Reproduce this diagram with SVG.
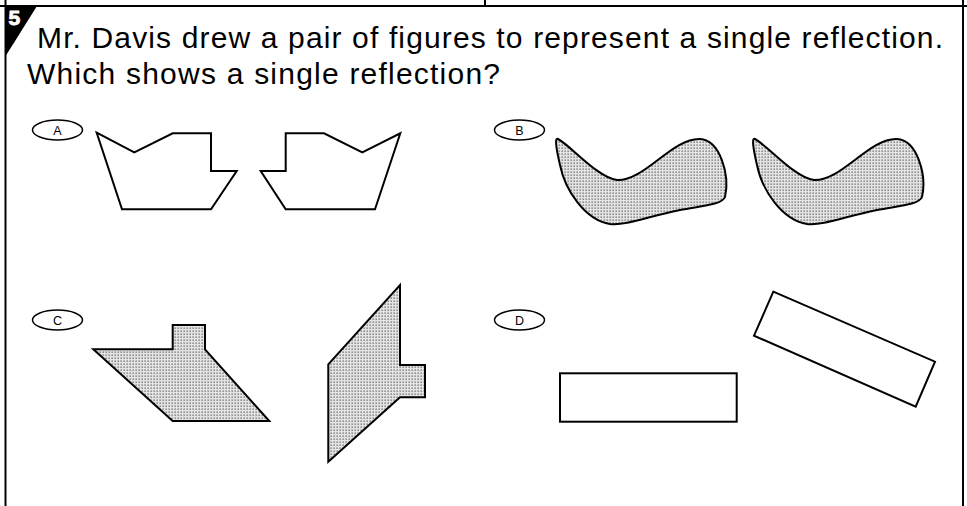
<svg xmlns="http://www.w3.org/2000/svg" width="967" height="506" viewBox="0 0 967 506">
<style>
.frame{stroke:#000;stroke-width:2;fill:none}
.shape{stroke:#000;stroke-width:2;fill:#fff;stroke-linejoin:miter}
.dot{stroke:#000;stroke-width:2;fill:url(#stipple);stroke-linejoin:miter}
.oval{stroke:#000;stroke-width:1.5;fill:#fff}
.lbl{font-family:"Liberation Sans",Arial,sans-serif;font-size:12.5px;fill:#000;text-anchor:middle}
.q{font-family:"Liberation Sans",Arial,sans-serif;font-size:30px;fill:#000}
</style>
<defs>
<pattern id="stipple" width="3" height="3" patternUnits="userSpaceOnUse">
<rect width="3" height="3" fill="#e4e4e4"/>
<rect x="0.5" y="0.5" width="1.3" height="1.3" fill="#666"/>
</pattern>
</defs>
<rect width="967" height="506" fill="#fff"/>
<g id="frame">
<line class="frame" x1="0" y1="6" x2="967" y2="6"/>
<line class="frame" x1="5.5" y1="0" x2="5.5" y2="506"/>
<line class="frame" x1="963" y1="0" x2="963" y2="506"/>
<line class="frame" x1="485" y1="0" x2="485" y2="6"/>
</g>
<g id="badge">
<polygon points="5,6 37,6 5,57" fill="#000"/>
<text x="8.5" y="25" font-family="'Liberation Sans',Arial,sans-serif" font-size="21" font-weight="bold" fill="#fff" stroke="#fff" stroke-width="0.9">5</text>
</g>
<g id="question">
<text class="q" x="37" y="48" textLength="906" lengthAdjust="spacing">Mr. Davis drew a pair of figures to represent a single reflection.</text>
<text class="q" x="27" y="84" textLength="473" lengthAdjust="spacing">Which shows a single reflection?</text>
</g>
<g id="optionA">
<ellipse class="oval" cx="57.5" cy="130" rx="25" ry="10"/>
<text class="lbl" x="57.5" y="134.5">A</text>
<polygon class="shape" points="96.7,132.7 134.3,152.3 172.7,133.3 211,133.3 211,171 236.7,171 211,209.3 122,209.3"/>
<polygon class="shape" points="285.7,133.3 324,133.3 362.3,152.3 400.3,133.3 375,209.3 285.7,209.3 260.7,171 285.7,171"/>
</g>
<g id="optionB">
<ellipse class="oval" cx="519.5" cy="130" rx="25" ry="10"/>
<text class="lbl" x="519.5" y="134.5">B</text>
<path class="dot" d="M558,139 C570,145 598,178 617,180 C645,181 672,138 700,139 C720,140 730,175 725,197 C722,205 700,206 680,210 C650,216 625,226 610,224 C585,220 565,190 560,165 C557,152 554,137 558,139 Z"/>
<path class="dot" transform="translate(197,0)" d="M558,139 C570,145 598,178 617,180 C645,181 672,138 700,139 C720,140 730,175 725,197 C722,205 700,206 680,210 C650,216 625,226 610,224 C585,220 565,190 560,165 C557,152 554,137 558,139 Z"/>
</g>
<g id="optionC">
<ellipse class="oval" cx="57.5" cy="320" rx="25" ry="10"/>
<text class="lbl" x="57.5" y="324.5">C</text>
<polygon class="dot" points="93.3,349.3 172.7,349.3 172.7,325 205,325 205,349.3 269.3,421 172.7,421"/>
<polygon class="dot" points="400,285 400,365 425,365 425,397.3 400,397.3 328.3,461.7 328.3,364.3"/>
</g>
<g id="optionD">
<ellipse class="oval" cx="519.5" cy="320" rx="25" ry="10"/>
<text class="lbl" x="519.5" y="324.5">D</text>
<rect class="shape" x="560" y="373.3" width="176.7" height="48.4"/>
<polygon class="shape" points="773.3,291.7 935,361.7 915.7,406.7 754,335.7"/>
</g>
</svg>
